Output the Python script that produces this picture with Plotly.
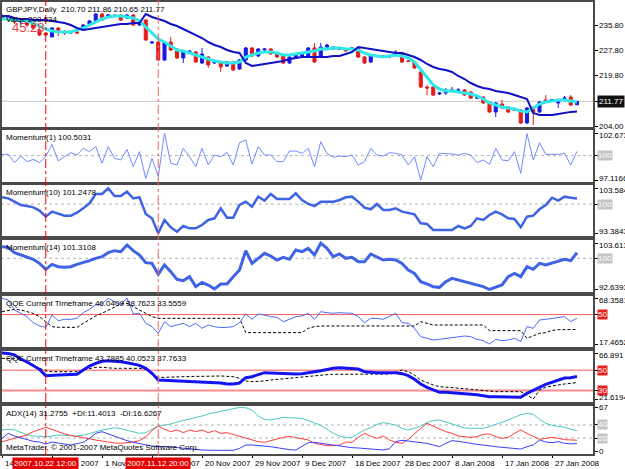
import plotly.graph_objects as go

N = 93
idx = list(range(N))

open_ = [238.01, 238.64, 237.70, 236.75, 237.07, 235.81, 234.23, 233.29, 232.03, 234.86,
         233.60, 233.29, 233.60, 234.23, 236.12, 237.07, 239.27, 238.64, 238.96, 238.96,
         238.01, 238.96, 235.81, 237.38, 230.14, 230.45, 224.79, 230.45, 228.25, 225.42,
         226.99, 227.31, 223.84, 225.73, 223.84, 224.16, 222.90, 224.16, 221.95, 224.79,
         228.57, 226.05, 227.94, 228.25, 226.68, 226.05, 223.84, 225.73, 226.05, 226.05,
         228.57, 225.73, 228.88, 228.25, 228.25, 228.25, 228.25, 228.57, 225.73, 224.16,
         226.05, 226.05, 225.73, 226.68, 226.99, 224.47, 224.16, 221.01, 216.28, 216.28,
         214.08, 214.39, 215.02, 215.02, 215.34, 214.71, 212.82, 213.13, 211.56, 208.41,
         210.93, 209.98, 209.05, 209.05, 204.95, 209.98, 208.41, 212.19, 212.19, 211.25,
         212.50, 213.13, 210.70]
high = [239.27, 238.96, 238.33, 237.70, 237.38, 236.44, 234.55, 233.60, 235.18, 235.18,
        234.23, 233.92, 233.92, 236.12, 237.38, 239.59, 239.59, 239.27, 239.27, 239.27,
        239.27, 239.27, 237.07, 237.70, 230.77, 230.77, 230.77, 232.03, 228.57, 227.62,
        227.94, 227.62, 228.57, 226.05, 224.79, 224.47, 224.47, 224.47, 225.10, 228.88,
        228.88, 228.57, 228.57, 228.57, 227.00, 226.36, 226.05, 226.99, 226.99, 228.88,
        230.14, 230.14, 229.82, 229.19, 228.57, 228.57, 228.88, 228.88, 226.05, 226.36,
        226.36, 226.36, 226.36, 227.94, 227.31, 224.79, 224.47, 221.32, 216.91, 216.60,
        214.71, 215.97, 216.28, 215.97, 215.65, 215.02, 213.13, 213.45, 211.87, 211.56,
        212.19, 210.30, 209.35, 209.35, 209.98, 210.30, 211.87, 213.76, 212.50, 212.19,
        213.45, 213.76, 211.86]
low = [237.38, 237.07, 236.12, 235.81, 235.18, 234.23, 232.34, 232.34, 232.03, 232.34,
       232.66, 232.97, 232.97, 233.92, 235.49, 236.75, 237.07, 238.33, 238.33, 237.07,
       237.70, 235.49, 235.49, 230.77, 229.82, 224.47, 224.47, 227.62, 225.10, 223.84,
       226.68, 223.84, 223.53, 222.27, 223.53, 221.01, 222.58, 221.32, 221.64, 224.47,
       225.73, 225.73, 227.62, 226.36, 225.42, 223.53, 223.53, 225.42, 225.73, 225.73,
       223.84, 225.73, 228.57, 227.94, 227.94, 227.31, 227.94, 225.42, 223.53, 223.84,
       225.73, 225.42, 225.42, 226.36, 223.84, 224.16, 221.95, 215.97, 213.76, 213.45,
       213.76, 213.76, 214.71, 214.39, 213.45, 212.50, 212.50, 210.93, 208.10, 206.84,
       209.35, 208.10, 208.73, 204.63, 204.63, 204.31, 208.10, 211.56, 211.87, 209.67,
       212.19, 210.30, 210.65]
close = [238.64, 237.70, 236.75, 237.07, 235.81, 234.86, 232.66, 232.66, 234.86, 233.60,
         233.29, 233.60, 233.29, 235.81, 237.07, 239.27, 237.38, 238.96, 238.64, 237.38,
         238.96, 235.81, 236.75, 231.08, 230.45, 224.79, 230.45, 227.94, 225.42, 227.31,
         227.62, 224.16, 226.68, 223.21, 224.47, 222.58, 224.16, 221.64, 224.79, 228.57,
         226.05, 228.25, 228.25, 226.68, 225.73, 223.84, 225.73, 226.68, 226.68, 228.57,
         224.16, 228.88, 229.51, 228.88, 228.30, 227.62, 228.57, 225.73, 223.84, 226.05,
         226.00, 225.73, 226.05, 227.31, 224.16, 224.40, 222.27, 216.28, 215.97, 213.76,
         214.39, 215.34, 215.34, 215.34, 213.76, 212.82, 212.90, 211.25, 208.41, 211.25,
         209.67, 208.41, 208.95, 204.95, 209.67, 208.41, 211.56, 211.87, 212.25, 211.56,
         212.82, 210.61, 211.77]

ma_fast = [237.70, 237.70, 237.38, 237.38, 237.07, 236.44, 235.49, 234.55, 233.92, 233.60,
           233.60, 233.60, 234.23, 234.86, 235.81, 236.75, 237.70, 238.33, 238.64, 238.64,
           238.33, 238.01, 237.07, 235.18, 232.97, 231.40, 230.45, 229.19, 227.94, 227.62,
           226.99, 226.36, 225.73, 225.10, 224.47, 224.16, 223.84, 223.84, 224.16, 225.73,
           226.36, 226.99, 227.31, 227.31, 226.99, 226.36, 226.36, 226.68, 226.99, 227.31,
           227.62, 228.25, 228.25, 228.57, 228.57, 228.25, 228.25, 227.94, 226.99, 226.36,
           226.05, 225.73, 226.05, 226.36, 226.05, 225.42, 224.16, 221.64, 219.12, 216.91,
           215.65, 215.02, 215.02, 214.71, 214.39, 214.08, 213.45, 212.50, 211.25, 210.61,
           209.98, 209.67, 209.35, 208.73, 208.41, 209.67, 210.93, 211.56, 211.87, 212.19,
           212.19, 211.87, 211.56]
trail = [238.64, 238.64, 238.01, 237.70, 237.70, 237.38, 237.38, 237.38, 237.07, 236.75,
         236.44, 235.81, 234.86, 234.23, 234.55, 234.86, 235.18, 235.49, 235.81, 236.12,
         236.12, 236.44, 236.44, 239.27, 238.33, 237.70, 237.07, 236.12, 235.49, 234.55,
         233.60, 232.66, 231.71, 230.45, 229.51, 228.88, 227.94, 227.31, 226.99, 223.84,
         222.90, 223.21, 223.53, 223.84, 224.16, 224.47, 225.10, 225.42, 225.73, 225.73,
         225.73, 225.73, 225.73, 226.05, 226.05, 226.68, 227.31, 228.88, 228.57, 228.25,
         227.94, 227.62, 227.31, 226.99, 226.99, 226.36, 225.73, 224.79, 223.53, 222.58,
         221.95, 221.64, 221.01, 219.75, 218.80, 217.54, 216.60, 215.97, 215.65, 215.02,
         214.71, 214.39, 213.76, 213.13, 212.50, 208.10, 207.47, 207.47, 207.47, 207.78,
         208.10, 208.45, 208.534]

mom1 = [100.15, 100.15, 99.17, 99.95, 99.28, 99.56, 99.17, 99.87, 101.33, 99.36,
        99.87, 100.35, 100.07, 100.86, 100.47, 101.06, 99.09, 101.06, 99.68, 99.48,
        100.74, 98.69, 100.47, 97.30, 99.68, 97.51, 102.6731, 99.09, 98.89, 100.86,
        99.87, 98.69, 100.86, 98.89, 100.07, 99.87, 100.39, 98.89, 101.53, 101.84,
        99.01, 101.06, 100.07, 100.07, 99.28, 99.28, 100.54, 100.54, 100.27, 100.86,
        98.69, 101.65, 100.27, 99.80, 99.95, 99.87, 100.07, 98.89, 99.28, 100.86,
        100.07, 99.95, 100.35, 100.27, 100.07, 98.89, 99.87, 97.1166, 99.87, 98.69,
        100.27, 100.27, 100.19, 100.07, 100.27, 100.07, 99.17, 99.48, 98.97, 100.86,
        99.48, 99.40, 100.47, 97.91, 102.60, 99.48, 101.53, 100.15, 100.15, 100.15,
        100.27, 98.89, 100.5031]
mom10 = [101.54, 101.31, 100.56, 99.80, 99.57, 99.27, 98.52, 97.15, 98.29, 97.76,
         97.38, 97.38, 98.06, 99.04, 100.18, 102.29, 102.29, 103.5846, 101.84, 101.84,
         102.82, 101.31, 101.54, 97.76, 96.78, 93.3843, 96.40, 94.74, 93.75, 95.04,
         94.51, 94.51, 95.27, 96.40, 96.78, 99.04, 96.93, 96.93, 99.80, 100.56,
         99.42, 101.69, 100.78, 102.29, 101.16, 101.16, 101.16, 102.44, 100.93, 100.03,
         99.57, 100.56, 100.56, 100.56, 100.93, 101.54, 101.69, 100.56, 99.19, 98.82,
         100.03, 98.67, 98.67, 99.04, 98.29, 97.91, 97.68, 95.64, 95.49, 94.13,
         94.13, 94.13, 94.13, 95.04, 94.51, 95.04, 96.78, 96.40, 97.53, 98.29,
         97.68, 96.78, 96.63, 94.74, 97.15, 97.38, 98.82, 99.80, 101.46, 100.78,
         101.69, 101.46, 101.2478]
mom14 = [102.75, 102.59, 101.33, 100.78, 100.23, 99.76, 98.81, 97.40, 98.58, 98.03,
         97.87, 98.03, 98.58, 98.97, 99.44, 99.99, 100.39, 101.33, 101.80, 101.57,
         103.14, 101.80, 100.78, 98.97, 98.81, 96.22, 98.42, 96.85, 95.04, 94.72,
         95.67, 93.31, 94.33, 93.70, 92.76, 93.94, 93.94, 95.67, 97.24, 101.80,
         98.81, 99.99, 101.17, 100.54, 99.60, 100.23, 99.76, 101.96, 101.57, 102.35,
         100.78, 103.6137, 102.35, 100.39, 101.02, 99.99, 100.23, 99.21, 99.21, 101.02,
         100.39, 99.60, 99.76, 99.60, 98.81, 97.24, 96.45, 94.49, 93.94, 93.31,
         93.15, 94.49, 95.27, 94.88, 94.49, 94.25, 93.70, 93.31, 92.6393, 93.15,
         93.70, 95.67, 96.45, 95.67, 98.03, 97.40, 98.81, 98.42, 98.81, 99.21,
         99.76, 99.44, 101.3108]

qqe1_rsi = [67.99, 66.15, 55.09, 51.40, 47.71, 41.08, 37.39, 35.92, 49.56, 43.29,
            44.76, 44.76, 45.87, 52.14, 55.82, 60.62, 61.72, 67.99, 64.30, 60.62,
            68.3581, 50.66, 51.40, 40.34, 36.65, 29.28, 42.18, 36.65, 38.50, 40.34,
            36.65, 40.34, 34.81, 38.50, 36.65, 35.55, 35.92, 36.65, 41.08, 50.66,
            44.76, 50.66, 49.56, 47.71, 46.98, 42.18, 44.76, 47.71, 48.45, 51.40,
            44.76, 53.24, 52.14, 51.40, 52.14, 51.40, 51.40, 47.71, 41.08, 45.87,
            45.87, 44.76, 47.71, 51.40, 41.08, 40.34, 34.81, 25.59, 23.75, 21.90,
            22.64, 23.75, 24.85, 25.59, 26.33, 25.59, 22.64, 21.17, 17.4652, 22.64,
            21.17, 21.90, 23.75, 20.06, 36.65, 34.81, 44.04, 44.76, 45.87, 46.61,
            47.71, 42.18, 46.0409]
qqe1_trail = [53.24, 54.35, 55.82, 55.09, 53.24, 51.40, 47.71, 42.18, 36.65, 35.92,
              35.92, 35.92, 35.92, 40.34, 44.76, 48.45, 51.40, 55.09, 58.77, 61.72,
              62.46, 58.77, 55.09, 51.40, 47.71, 45.87, 45.87, 45.87, 45.87, 45.87,
              45.87, 45.87, 45.87, 45.87, 45.87, 45.87, 45.87, 45.87, 45.87, 30.02,
              30.02, 30.02, 30.02, 30.02, 30.02, 30.02, 30.02, 30.02, 30.02, 34.81,
              36.65, 37.39, 37.39, 37.39, 37.39, 37.39, 37.39, 37.39, 37.39, 37.39,
              37.39, 37.39, 37.39, 37.39, 37.39, 37.39, 37.39, 42.18, 40.34, 38.50,
              38.50, 38.50, 38.50, 38.50, 38.50, 38.50, 38.50, 38.50, 32.23, 32.23,
              32.23, 32.23, 32.23, 32.23, 23.75, 26.33, 29.28, 30.02, 32.50, 33.30,
              33.5559, 33.5559, 33.5559]

qqe2_rsi = [66.891, 66.50, 64.92, 60.98, 58.03, 54.42, 50.82, 44.58, 44.58, 45.24,
            45.57, 45.57, 45.90, 50.16, 54.10, 56.72, 58.69, 59.34, 59.02, 58.36,
            57.38, 56.06, 54.75, 51.80, 46.88, 40.32, 39.99, 39.66, 39.34, 39.01,
            38.68, 38.35, 38.35, 38.02, 38.02, 37.37, 36.38, 36.38, 37.37, 42.62,
            43.60, 45.57, 47.54, 47.21, 46.88, 46.88, 46.55, 46.22, 46.55, 47.86,
            48.52, 49.50, 50.82, 51.80, 52.46, 52.13, 51.80, 51.14, 48.52, 47.86,
            47.54, 47.54, 47.54, 47.54, 46.55, 44.58, 40.98, 36.38, 33.10, 30.48,
            28.18, 28.18, 27.86, 27.53, 27.20, 26.54, 25.89, 24.90, 23.92, 23.92,
            23.92, 23.92, 23.59, 23.26, 27.20, 29.82, 33.10, 36.05, 38.35, 40.32,
            42.29, 42.62, 43.7885]
qqe2_trail = [61.64, 61.64, 61.31, 60.66, 58.36, 55.08, 51.80, 49.50, 48.52, 48.52,
              48.52, 48.52, 48.52, 50.16, 51.80, 52.78, 52.78, 52.13, 51.80, 51.80,
              51.80, 51.80, 51.80, 50.82, 46.88, 42.94, 42.94, 43.27, 43.60, 43.60,
              43.60, 43.93, 43.93, 44.26, 44.26, 44.26, 43.93, 43.60, 41.96, 39.34,
              38.68, 38.68, 39.34, 40.32, 40.98, 41.63, 42.29, 42.94, 43.60, 44.26,
              44.91, 45.24, 45.57, 45.90, 45.90, 45.90, 45.90, 46.22, 46.22, 46.22,
              46.22, 46.22, 46.22, 47.54, 50.16, 48.52, 45.24, 40.32, 37.70, 35.40,
              33.76, 33.43, 33.10, 32.45, 31.79, 31.14, 30.48, 29.82, 29.17, 28.84,
              28.84, 28.84, 28.84, 28.84, 25.56, 21.6194, 30.48, 33.10, 34.42, 35.73,
              36.38, 37.04, 37.7633]

adx = [32.30, 33.32, 32.30, 28.70, 25.10, 23.07, 22.55, 22.04, 23.07, 24.60,
       24.09, 23.58, 23.07, 24.09, 27.17, 29.73, 32.30, 33.83, 35.88, 34.35,
       32.30, 29.73, 27.17, 28.19, 33.83, 38.45, 39.99, 41.52, 44.60, 46.65,
       48.70, 51.78, 53.83, 56.90, 59.47, 61.01, 63.06, 65.62, 67.00, 66.50,
       63.06, 53.83, 48.70, 47.68, 49.73, 51.78, 51.26, 50.24, 50.24, 46.65,
       43.57, 39.47, 33.32, 27.17, 23.07, 21.02, 21.02, 26.14, 32.30, 35.88,
       41.01, 43.57, 41.52, 39.99, 34.86, 32.30, 34.86, 38.45, 43.57, 46.65,
       47.68, 45.11, 41.52, 38.45, 35.37, 34.86, 34.86, 34.86, 37.42, 40.50,
       43.57, 47.68, 51.78, 55.88, 57.93, 56.39, 48.70, 42.55, 39.47, 38.45,
       36.40, 33.83, 31.2755]
plus_di = [19.48, 27.17, 23.07, 19.99, 16.91, 14.86, 13.84, 10.76, 13.84, 11.79,
           10.76, 9.23, 11.27, 13.32, 19.48, 27.17, 29.73, 26.14, 22.04, 18.45,
           15.89, 13.32, 11.27, 9.23, 7.69, 6.66, 7.18, 6.15, 5.12, 4.10,
           3.07, 2.05, 1.53, 1.20, 1.00, 0.90, 0.70, 1.00, 4.10, 9.23,
           9.23, 8.71, 8.20, 6.66, 5.12, 3.07, 2.05, 1.53, 6.66, 12.81,
           13.32, 11.79, 10.76, 9.23, 7.69, 6.15, 5.12, 4.61, 4.10, 3.07,
           2.05, 1.53, 3.58, 14.35, 16.40, 15.38, 14.35, 12.81, 11.79, 9.23,
           6.66, 11.79, 15.89, 14.86, 13.84, 11.79, 10.25, 8.71, 7.69, 6.66,
           5.64, 4.61, 3.58, 3.07, 6.66, 9.23, 16.91, 13.84, 12.81, 14.35,
           11.79, 11.00, 11.4013]
minus_di = [14.35, 16.91, 18.96, 21.02, 24.60, 29.73, 33.32, 36.40, 33.32, 29.73,
            26.14, 24.09, 22.04, 20.50, 18.96, 16.91, 15.38, 13.32, 12.30, 11.79,
            12.30, 13.84, 15.89, 22.04, 31.27, 38.45, 33.32, 29.73, 32.30, 28.19,
            32.30, 29.73, 32.30, 28.19, 31.27, 27.17, 28.19, 25.63, 22.04, 19.48,
            16.91, 14.35, 13.32, 15.89, 18.96, 21.02, 22.56, 20.50, 17.94, 16.91,
            11.79, 9.74, 8.20, 8.20, 9.23, 13.84, 13.32, 21.02, 27.17, 23.07,
            19.48, 23.07, 16.91, 13.32, 11.79, 17.94, 27.17, 34.86, 42.55, 38.45,
            34.86, 29.73, 27.17, 23.07, 22.04, 21.02, 22.04, 25.63, 26.14, 22.04,
            19.48, 21.02, 27.17, 32.30, 27.17, 22.04, 17.94, 19.48, 21.02, 19.48,
            17.50, 17.00, 16.6267]

date_idx = [0, 8, 16, 24, 32, 40, 48, 56, 64, 72, 80, 88]
date_txt = ["14 Oct 2007", "23 Oct 2007", "1 Nov 2007", "11 Nov 2007", "20 Nov 2007",
            "29 Nov 2007", "9 Dec 2007", "18 Dec 2007", "28 Dec 2007", "8 Jan 2008",
            "17 Jan 2008", "27 Jan 2008"]
cross_idx = [7, 25]
cross_txt = ["2007.10.22 12:00", "2007.11.12 20:00"]

# ---------------- layout geometry ----------------
W, H = 625, 469
ML, MR, MT, MB = 1, 31, 0, 13
PH = H - MT - MB


def pf(py):
    return (H - MB - py) / PH


FONT = "Liberation Sans"
FS = 8

# axis name, pixel top, pixel bottom, value at top, value at bottom
panels = [
    ("y", 2, 127, 243.05, 203.69),
    ("y2", 130, 182, 103.028, 96.880),
    ("y3", 185, 236, 104.333, 92.772),
    ("y4", 240, 292, 104.322, 92.049),
    ("y5", 296, 347, 70.571, 14.146),
    ("y6", 351, 402, 68.859, 18.667),
    ("y7", 406, 454, 69.2, -4.6),
]
frames = [(1, 128), (129, 183), (184, 237), (239, 293), (295, 348), (350, 403), (405, 455)]

fig = go.Figure()

fig.add_trace(go.Candlestick(
    x=idx, open=open_, high=high, low=low, close=close, xaxis="x", yaxis="y",
    increasing=dict(line=dict(color="#1a1ae6", width=1), fillcolor="#1a1ae6"),
    decreasing=dict(line=dict(color="#e61a1a", width=1), fillcolor="#e61a1a"),
    whiskerwidth=0, showlegend=False, hoverinfo="skip"))
fig.add_trace(go.Scatter(x=idx, y=ma_fast, mode="lines", yaxis="y",
                         line=dict(color="#30e8e8", width=3), showlegend=False))
fig.add_trace(go.Scatter(x=idx, y=trail, mode="lines", yaxis="y",
                         line=dict(color="#1010c8", width=2), showlegend=False))

fig.add_trace(go.Scatter(x=idx, y=mom1, mode="lines", yaxis="y2",
                         line=dict(color="#6f8cff", width=1), showlegend=False))
fig.add_trace(go.Scatter(x=idx, y=mom10, mode="lines", yaxis="y3",
                         line=dict(color="#3f63e6", width=2.5), showlegend=False))
fig.add_trace(go.Scatter(x=idx, y=mom14, mode="lines", yaxis="y4",
                         line=dict(color="#3f63e6", width=3), showlegend=False))

fig.add_trace(go.Scatter(x=idx, y=qqe1_trail, mode="lines", yaxis="y5",
                         line=dict(color="#000000", width=1, dash="3px,2px"), showlegend=False))
fig.add_trace(go.Scatter(x=idx, y=qqe1_rsi, mode="lines", yaxis="y5",
                         line=dict(color="#4a6cf7", width=1), showlegend=False))

fig.add_trace(go.Scatter(x=idx, y=qqe2_trail, mode="lines", yaxis="y6",
                         line=dict(color="#000000", width=1, dash="3px,2px"), showlegend=False))
fig.add_trace(go.Scatter(x=idx, y=qqe2_rsi, mode="lines", yaxis="y6",
                         line=dict(color="#1414f0", width=3), showlegend=False))

fig.add_trace(go.Scatter(x=idx, y=adx, mode="lines", yaxis="y7",
                         line=dict(color="#4cc8c8", width=1), showlegend=False))
fig.add_trace(go.Scatter(x=idx, y=minus_di, mode="lines", yaxis="y7",
                         line=dict(color="#ff3c3c", width=1), showlegend=False))
fig.add_trace(go.Scatter(x=idx, y=plus_di, mode="lines", yaxis="y7",
                         line=dict(color="#3c3cff", width=1), showlegend=False))

# right-hand scale labels: (axis, value, text, kind, shift)
right_labels = [
    ("y", 235.80, "235.80", None, 0), ("y", 227.80, "227.80", None, 0),
    ("y", 219.80, "219.80", None, 0), ("y", 204.00, "204.00", None, 0),
    ("y", 211.77, "211.77", "black", 0),
    ("y2", 102.6731, "102.6731", None, -2), ("y2", 100, "100", "gray", 0), ("y2", 97.1166, "97.1166", None, 2),
    ("y3", 103.5846, "103.5846", None, -2), ("y3", 100, "100", "gray", 0), ("y3", 93.3843, "93.3843", None, 2),
    ("y4", 103.6137, "103.6137", None, -2), ("y4", 100, "100", "gray", 0), ("y4", 92.6393, "92.6393", None, 2),
    ("y5", 68.3581, "68.3581", None, -2), ("y5", 50, "50", "red", 0), ("y5", 17.4652, "17.4652", None, 2),
    ("y6", 66.891, "66.891", None, -2), ("y6", 50, "50", "red", 0), ("y6", 30, "30", "red", 0),
    ("y6", 21.6194, "21.6194", None, 2),
    ("y7", 67, "67", None, 0), ("y7", 40, "40", "gray", 0), ("y7", 20, "20", "gray", 0), ("y7", 0, "0", None, 0),
]

annotations = []
for ax, val, txt, kind, sh in right_labels:
    a = dict(x=1, xref="paper", xanchor="left", xshift=3, y=val, yref=ax, yanchor="middle",
             yshift=sh, text=txt, showarrow=False, font=dict(family=FONT, size=FS, color="black"))
    if kind == "black":
        a.update(bgcolor="#101010", font=dict(family=FONT, size=FS, color="white"), borderpad=1)
    elif kind == "gray":
        a.update(bgcolor="#c4c4c4", font=dict(family=FONT, size=FS, color="white"), borderpad=0)
    elif kind == "red":
        a.update(bgcolor="#e41e1e", font=dict(family=FONT, size=FS, color="white"), borderpad=0)
    annotations.append(a)

titles = [
    ("y", "GBPJPY,Daily  210.70 211.86 210.65 211.77"),
    ("y2", "Momentum(1) 100.5031"),
    ("y3", "Momentum(10) 101.2478"),
    ("y4", "Momentum(14) 101.3108"),
    ("y5", "QQE Current Timeframe 46.0409 38.7623 33.5559"),
    ("y6", "QQE Current Timeframe 43.7885 40.0523 37.7633"),
    ("y7", "ADX(14) 31.2755  +DI:11.4013  -DI:16.6267"),
]
for ax, txt in titles:
    annotations.append(dict(x=0, xref="paper", xanchor="left", xshift=3, y=1, yref=ax + " domain",
                            yanchor="top", yshift=-1, text=txt, showarrow=False,
                            font=dict(family=FONT, size=FS, color="black")))
annotations.append(dict(x=0, xref="paper", xanchor="left", xshift=3, y=1, yref="y domain",
                        yanchor="top", yshift=-11, text="Value 208.534", showarrow=False,
                        font=dict(family=FONT, size=FS, color="black")))
annotations.append(dict(x=0, xref="paper", xanchor="left", xshift=9, y=1, yref="y domain",
                        yanchor="top", yshift=-16, text="45.28", showarrow=False,
                        font=dict(family=FONT, size=13, color="#e04848")))
annotations.append(dict(x=0, xref="paper", xanchor="left", xshift=3, y=0, yref="y7 domain",
                        yanchor="bottom", yshift=0, text="MetaTrader, © 2001-2007 MetaQuotes Software Corp.",
                        showarrow=False, font=dict(family=FONT, size=FS, color="black")))

for i, t in zip(date_idx, date_txt):
    annotations.append(dict(x=i, xref="x", xanchor="left", xshift=1, y=0, yref="paper",
                            yanchor="top", yshift=-1, text=t, showarrow=False,
                            font=dict(family=FONT, size=FS, color="black")))
for i, t in zip(cross_idx, cross_txt):
    annotations.append(dict(x=i, xref="x", xanchor="center", y=0, yref="paper",
                            yanchor="top", yshift=-1, text=t, showarrow=False, bgcolor="#e40000",
                            borderpad=1, font=dict(family=FONT, size=FS, color="white")))

shapes = []
# level lines
shapes.append(dict(type="line", xref="paper", x0=0, x1=1, yref="y", y0=211.77, y1=211.77,
                   line=dict(color="#c8c8c8", width=1), layer="below"))
for ax in ["y2", "y3", "y4"]:
    shapes.append(dict(type="line", xref="paper", x0=0, x1=1, yref=ax, y0=100, y1=100,
                       line=dict(color="#b4b4b4", width=1, dash="dot"), layer="below"))
shapes.append(dict(type="line", xref="paper", x0=0, x1=1, yref="y5", y0=50, y1=50,
                   line=dict(color="#ff5a5a", width=1), layer="below"))
shapes.append(dict(type="line", xref="paper", x0=0, x1=1, yref="y6", y0=50, y1=50,
                   line=dict(color="#ff5a5a", width=1), layer="below"))
shapes.append(dict(type="line", xref="paper", x0=0, x1=1, yref="y6", y0=30, y1=30,
                   line=dict(color="#ff8c8c", width=2), layer="below"))
for lv in [40, 20]:
    shapes.append(dict(type="line", xref="paper", x0=0, x1=1, yref="y7", y0=lv, y1=lv,
                       line=dict(color="#b4b4b4", width=1, dash="dot"), layer="below"))
# panel frames
for t, b in frames:
    shapes.append(dict(type="rect", xref="paper", x0=0, x1=1, yref="paper", y0=pf(b), y1=pf(t),
                       line=dict(color="#4a4a4a", width=2), fillcolor="rgba(0,0,0,0)", layer="above"))
# crosshair lines
for i, col in zip(cross_idx, ["#ff0000", "#f06464"]):
    shapes.append(dict(type="line", xref="x", x0=i, x1=i, yref="paper", y0=0, y1=1,
                       line=dict(color=col, width=1, dash="dashdot"), layer="above"))

layout = dict(
    width=W, height=H, autosize=False,
    margin=dict(l=ML, r=MR, t=MT, b=MB, pad=0),
    paper_bgcolor="white", plot_bgcolor="white",
    showlegend=False, hovermode=False,
    annotations=annotations, shapes=shapes,
    xaxis=dict(domain=[0, 1], range=[-0.16, 94.72], anchor="y7", showgrid=False, zeroline=False,
               showline=False, tickvals=date_idx, ticks="outside", ticklen=3, tickcolor="#000000",
               showticklabels=False, rangeslider=dict(visible=False), fixedrange=True),
)
for ax, ptop, pbot, vtop, vbot in panels:
    key = "yaxis" if ax == "y" else "yaxis" + ax[1:]
    tv = [v for a, v, *_ in right_labels if a == ax]
    layout[key] = dict(domain=[pf(pbot), pf(ptop)], range=[vbot, vtop], anchor="x", side="right",
                       showgrid=False, zeroline=False, showline=False, showticklabels=False,
                       tickvals=tv, ticks="outside", ticklen=3, tickcolor="#000000", fixedrange=True)

fig.update_layout(**layout)
fig.write_html("out.html", config={"displayModeBar": False})
